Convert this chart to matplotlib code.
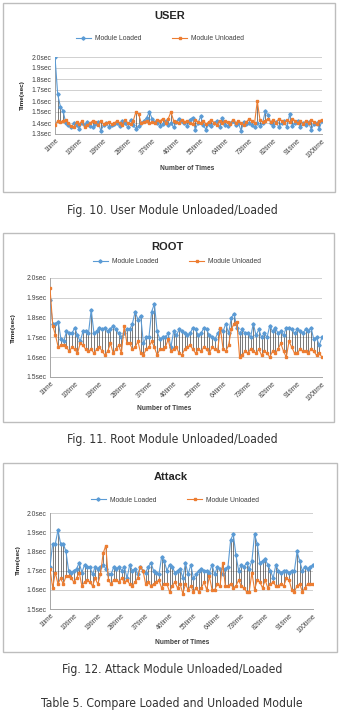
import matplotlib
matplotlib.use("Agg")
import matplotlib.pyplot as plt
from matplotlib.patches import Rectangle
from matplotlib.lines import Line2D
from matplotlib import font_manager

# Run numbers and category tick labels
runs = list(range(1, 101))
tick_runs = [1, 10, 19, 28, 37, 46, 55, 64, 73, 82, 91, 100]
tick_labels = ['1time', '10time', '19time', '28time', '37time', '46time',
               '55time', '64time', '73time', '82time', '91time', '100time']

# USER (seconds)
user_loaded = [
    2.00, 1.66, 1.55, 1.51, 1.40, 1.38, 1.36, 1.40, 1.38, 1.35,
    1.40, 1.38, 1.41, 1.37, 1.36, 1.39, 1.41, 1.33, 1.38, 1.40,
    1.36, 1.38, 1.39, 1.40, 1.37, 1.42, 1.40, 1.36, 1.43, 1.38,
    1.35, 1.37, 1.40, 1.42, 1.45, 1.50, 1.44, 1.41, 1.40, 1.37,
    1.39, 1.42, 1.38, 1.40, 1.36, 1.41, 1.44, 1.42, 1.40, 1.37,
    1.43, 1.45, 1.34, 1.40, 1.46, 1.38, 1.34, 1.39, 1.37, 1.40,
    1.42, 1.36, 1.45, 1.38, 1.37, 1.40, 1.42, 1.38, 1.40, 1.33,
    1.41, 1.39, 1.40, 1.38, 1.36, 1.40, 1.37, 1.40, 1.51, 1.47,
    1.40, 1.37, 1.41, 1.36, 1.40, 1.42, 1.36, 1.48, 1.37, 1.40,
    1.42, 1.36, 1.40, 1.38, 1.41, 1.34, 1.39, 1.40, 1.35, 1.42]
user_unloaded = [
    1.38, 1.42, 1.41, 1.42, 1.43, 1.40, 1.37, 1.36, 1.41, 1.39,
    1.42, 1.36, 1.38, 1.40, 1.42, 1.41, 1.38, 1.42, 1.39, 1.40,
    1.41, 1.39, 1.40, 1.42, 1.40, 1.38, 1.43, 1.40, 1.39, 1.42,
    1.50, 1.48, 1.40, 1.41, 1.42, 1.40, 1.41, 1.40, 1.43, 1.42,
    1.44, 1.40, 1.44, 1.50, 1.42, 1.41, 1.40, 1.43, 1.41, 1.42,
    1.40, 1.39, 1.43, 1.41, 1.40, 1.42, 1.39, 1.41, 1.43, 1.40,
    1.38, 1.42, 1.40, 1.42, 1.41, 1.39, 1.43, 1.40, 1.42, 1.40,
    1.38, 1.41, 1.44, 1.42, 1.40, 1.60, 1.43, 1.41, 1.42, 1.44,
    1.41, 1.43, 1.40, 1.44, 1.42, 1.40, 1.43, 1.41, 1.44, 1.42,
    1.40, 1.42, 1.39, 1.42, 1.40, 1.43, 1.41, 1.39, 1.42, 1.43]

# ROOT (seconds)
root_loaded = [
    1.89, 1.77, 1.77, 1.78, 1.69, 1.68, 1.73, 1.72, 1.72, 1.75,
    1.71, 1.68, 1.73, 1.73, 1.72, 1.84, 1.72, 1.73, 1.75, 1.74,
    1.75, 1.73, 1.74, 1.76, 1.74, 1.72, 1.70, 1.72, 1.74, 1.74,
    1.77, 1.83, 1.79, 1.81, 1.67, 1.70, 1.70, 1.83, 1.87, 1.73,
    1.69, 1.70, 1.70, 1.72, 1.65, 1.73, 1.71, 1.74, 1.73, 1.72,
    1.71, 1.72, 1.75, 1.74, 1.71, 1.72, 1.75, 1.74, 1.71, 1.70,
    1.69, 1.72, 1.74, 1.73, 1.77, 1.72, 1.80, 1.82, 1.75, 1.72,
    1.74, 1.72, 1.72, 1.70, 1.77, 1.71, 1.74, 1.70, 1.72, 1.70,
    1.76, 1.73, 1.75, 1.72, 1.73, 1.71, 1.75, 1.75, 1.74, 1.72,
    1.74, 1.73, 1.72, 1.74, 1.73, 1.75, 1.69, 1.70, 1.66, 1.70]
root_unloaded = [
    1.95, 1.76, 1.71, 1.65, 1.66, 1.66, 1.65, 1.63, 1.65, 1.64,
    1.62, 1.67, 1.66, 1.64, 1.63, 1.64, 1.62, 1.64, 1.65, 1.63,
    1.61, 1.63, 1.67, 1.62, 1.64, 1.66, 1.62, 1.76, 1.67, 1.67,
    1.64, 1.65, 1.68, 1.62, 1.61, 1.64, 1.65, 1.68, 1.65, 1.61,
    1.64, 1.64, 1.65, 1.69, 1.63, 1.64, 1.65, 1.62, 1.61, 1.64,
    1.65, 1.66, 1.64, 1.62, 1.64, 1.63, 1.65, 1.64, 1.62, 1.65,
    1.64, 1.63, 1.75, 1.64, 1.63, 1.66, 1.74, 1.77, 1.78, 1.60,
    1.61, 1.63, 1.62, 1.64, 1.63, 1.62, 1.64, 1.61, 1.63, 1.62,
    1.60, 1.63, 1.62, 1.64, 1.67, 1.63, 1.60, 1.68, 1.65, 1.62,
    1.62, 1.64, 1.63, 1.63, 1.62, 1.64, 1.63, 1.61, 1.62, 1.60]

# Attack (seconds)
attack_loaded = [
    1.72, 1.84, 1.84, 1.91, 1.84, 1.84, 1.80, 1.70, 1.69, 1.70,
    1.71, 1.74, 1.69, 1.73, 1.72, 1.72, 1.68, 1.72, 1.71, 1.72,
    1.73, 1.71, 1.68, 1.68, 1.72, 1.71, 1.72, 1.70, 1.72, 1.66,
    1.73, 1.70, 1.71, 1.68, 1.72, 1.70, 1.69, 1.72, 1.74, 1.70,
    1.69, 1.68, 1.77, 1.75, 1.70, 1.73, 1.72, 1.69, 1.70, 1.71,
    1.66, 1.74, 1.68, 1.73, 1.66, 1.68, 1.70, 1.71, 1.70, 1.70,
    1.69, 1.73, 1.68, 1.72, 1.71, 1.68, 1.71, 1.72, 1.86, 1.89,
    1.78, 1.70, 1.73, 1.72, 1.74, 1.71, 1.75, 1.89, 1.84, 1.74,
    1.75, 1.76, 1.73, 1.70, 1.66, 1.73, 1.70, 1.69, 1.70, 1.70,
    1.69, 1.70, 1.70, 1.80, 1.75, 1.70, 1.72, 1.71, 1.72, 1.73]
attack_unloaded = [
    1.71, 1.61, 1.69, 1.63, 1.66, 1.63, 1.67, 1.67, 1.66, 1.64,
    1.66, 1.69, 1.62, 1.64, 1.65, 1.64, 1.62, 1.66, 1.63, 1.68,
    1.79, 1.83, 1.65, 1.63, 1.65, 1.65, 1.64, 1.66, 1.64, 1.65,
    1.63, 1.62, 1.64, 1.66, 1.72, 1.70, 1.63, 1.64, 1.62, 1.63,
    1.64, 1.65, 1.61, 1.63, 1.63, 1.59, 1.62, 1.64, 1.61, 1.63,
    1.58, 1.63, 1.60, 1.62, 1.59, 1.61, 1.59, 1.61, 1.64, 1.60,
    1.67, 1.60, 1.60, 1.63, 1.62, 1.74, 1.62, 1.62, 1.63, 1.61,
    1.62, 1.65, 1.62, 1.61, 1.59, 1.59, 1.69, 1.60, 1.65, 1.64,
    1.61, 1.65, 1.61, 1.63, 1.64, 1.62, 1.62, 1.63, 1.62, 1.66,
    1.65, 1.60, 1.59, 1.62, 1.63, 1.59, 1.61, 1.63, 1.63, 1.63]

W, H = 345, 710
BLUE = '#5B9BD5'
ORANGE = '#ED7D31'
GRID = '#d0d0d0'
TXT = '#404040'
CHART_FONT = ['Liberation Sans', 'DejaVu Sans']

# Captions use a narrow face if one is around
installed = {f.name for f in font_manager.fontManager.ttflist}
narrow = [f.fname for f in font_manager.fontManager.ttflist
          if 'Condensed' in f.fname and 'DejaVuSans' in f.fname
          and 'Bold' not in f.fname and 'Oblique' not in f.fname]
if narrow:
    CAPTION_PROP = dict(fontproperties=font_manager.FontProperties(fname=narrow[0], size=8.7))
elif 'Liberation Sans Narrow' in installed:
    CAPTION_PROP = dict(family='Liberation Sans Narrow', fontsize=8.7)
else:
    CAPTION_PROP = dict(family='Liberation Sans', fontsize=7.8)


# pixel box (left, top, right, bottom) -> figure fraction rect
def px_rect(l, t, r, b):
    return [l / W, 1 - b / H, (r - l) / W, (b - t) / H]


def fx(px):
    return px / W


def fy(py):
    return 1 - py / H


# Draw one Excel-style line chart with high-low lines inside a frame
def draw_panel(fig, frame, plot, title, loaded, unloaded, y_min,
               title_xy, legend_xy, xlabel_xy, ylabel_xy):
    fig.add_artist(Rectangle((fx(frame[0]), fy(frame[3])),
                             fx(frame[2] - frame[0]), (frame[3] - frame[1]) / H,
                             transform=fig.transFigure, fill=False,
                             edgecolor='#bdbdbd', linewidth=1.0))

    ax = fig.add_axes(px_rect(*plot))

    # high-low lines between the two series
    lows = [min(a, b) for a, b in zip(loaded, unloaded)]
    highs = [max(a, b) for a, b in zip(loaded, unloaded)]
    ax.vlines(runs, lows, highs, color='#303030', linewidth=0.45, zorder=2)

    ax.plot(runs, loaded, color=BLUE, linewidth=0.8, marker='D',
            markersize=1.7, zorder=3)
    ax.plot(runs, unloaded, color=ORANGE, linewidth=0.8, marker='s',
            markersize=2.1, zorder=3)

    ax.set_xlim(1, 100)
    ax.set_ylim(y_min, 2.0)
    yt = [round(y_min + 0.1 * i, 1) for i in range(int(round((2.0 - y_min) / 0.1)) + 1)]
    ax.set_yticks(yt)
    ax.set_yticklabels([f'{v:.1f}sec' for v in yt], fontsize=4.9,
                       color=TXT, family=CHART_FONT)
    ax.set_xticks(tick_runs)
    ax.set_xticklabels(tick_labels, rotation=45, ha='right',
                       rotation_mode='anchor', fontsize=4.8, color=TXT,
                       family=CHART_FONT)
    ax.tick_params(axis='both', length=0, pad=2.5)

    ax.grid(axis='y', color=GRID, linewidth=0.7)
    ax.set_axisbelow(True)
    for side in ['top', 'right']:
        ax.spines[side].set_visible(False)
    for side in ['left', 'bottom']:
        ax.spines[side].set_color('#a6a6a6')
        ax.spines[side].set_linewidth(0.7)

    fig.text(fx(title_xy[0]), fy(title_xy[1]), title, ha='center',
             va='center', fontsize=8, fontweight='bold', color='#262626',
             family=CHART_FONT)
    fig.text(fx(xlabel_xy[0]), fy(xlabel_xy[1]), 'Number of Times',
             ha='center', va='center', fontsize=4.8, fontweight='bold',
             color=TXT, family=CHART_FONT)
    fig.text(fx(ylabel_xy[0]), fy(ylabel_xy[1]), 'Time(sec)', ha='center',
             va='center', rotation=90, fontsize=4.6, fontweight='bold',
             color='#202020', family=CHART_FONT)

    handles = [Line2D([], [], color=BLUE, linewidth=0.8, marker='D', markersize=1.7),
               Line2D([], [], color=ORANGE, linewidth=0.8, marker='s', markersize=2.1)]
    ax.legend(handles, ['Module Loaded', 'Module Unloaded'], ncol=2,
              loc='center', bbox_to_anchor=(fx(legend_xy[0]), fy(legend_xy[1])),
              bbox_transform=fig.transFigure, frameon=False,
              prop={'size': 4.9, 'family': CHART_FONT}, labelcolor=TXT,
              handlelength=2.2, handletextpad=0.6, columnspacing=4.5)
    return ax


fig = plt.figure(figsize=(W / 100, H / 100), dpi=100)

draw_panel(fig, (3, 3, 335, 192), (55, 57, 322, 134), 'USER',
           user_loaded, user_unloaded, 1.3,
           (170, 16), (160, 39), (187, 169), (22, 95))
draw_panel(fig, (3, 233, 334, 422), (50, 278, 322, 377), 'ROOT',
           root_loaded, root_unloaded, 1.5,
           (167, 247), (177, 262), (164, 409), (13, 328))
draw_panel(fig, (3, 463, 337, 652), (50, 513, 313, 609), 'Attack',
           attack_loaded, attack_unloaded, 1.5,
           (171, 477), (175, 500), (182, 643), (18, 560))

# Captions under each chart
captions = [('Fig. 10. User Module Unloaded/Loaded', 210),
            ('Fig. 11. Root Module Unloaded/Loaded', 440),
            ('Fig. 12. Attack Module Unloaded/Loaded', 670),
            ('Table 5. Compare Loaded and Unloaded Module', 703)]
for text, y in captions:
    fig.text(fx(172), fy(y), text, ha='center', va='center',
             color='#333333', **CAPTION_PROP)

fig.savefig('out.png', dpi=100)
